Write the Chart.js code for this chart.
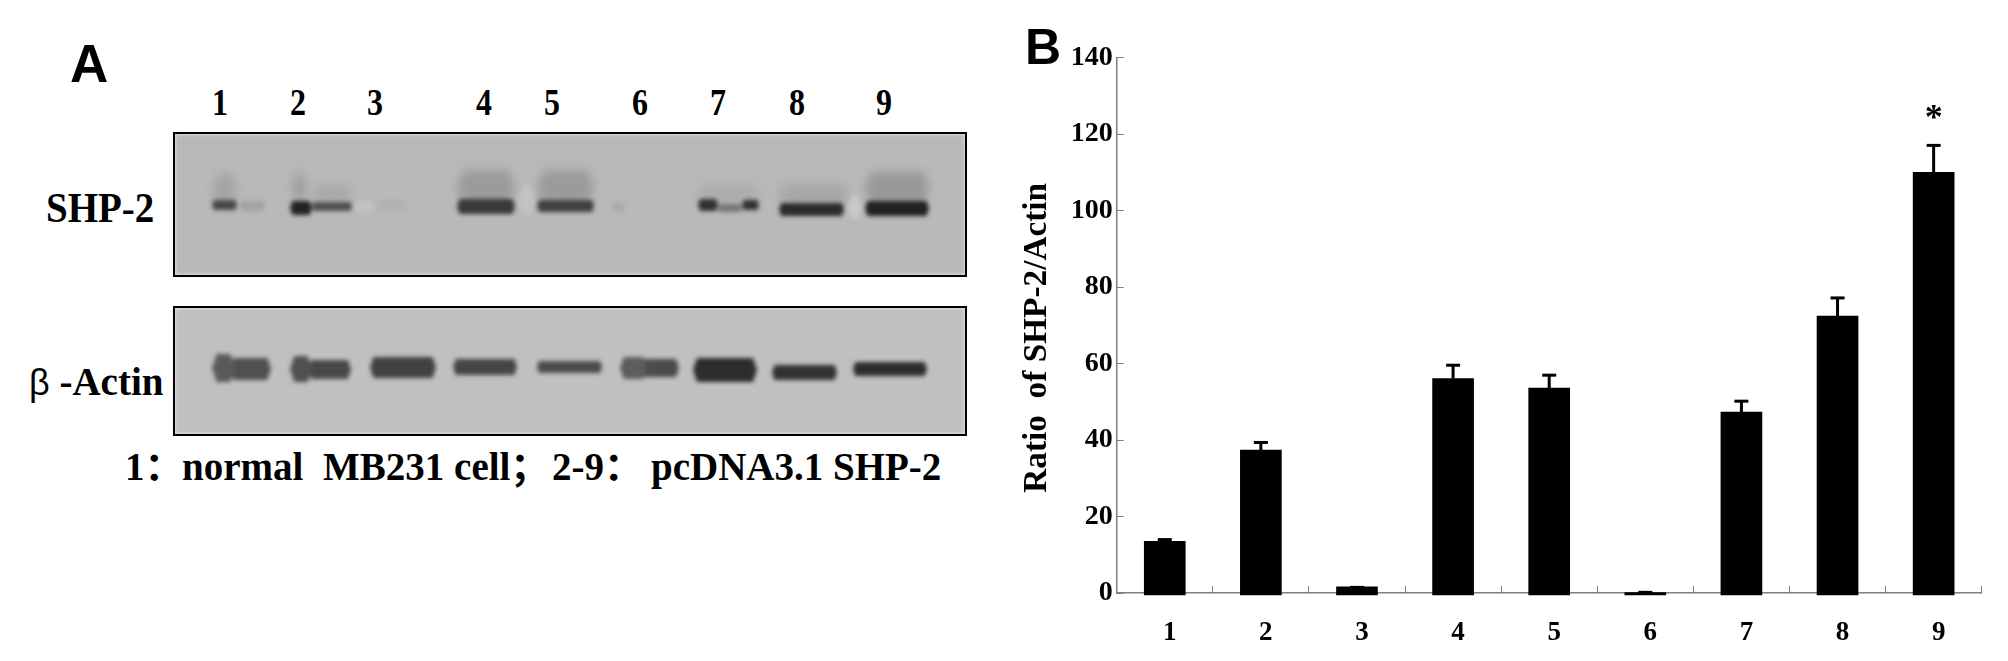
<!DOCTYPE html>
<html>
<head>
<meta charset="utf-8">
<title>SHP-2 expression</title>
<script src="https://cdn.jsdelivr.net/npm/chart.js@4"></script>
<style>
html, body { margin: 0; padding: 0; background: #fff; overflow: hidden; }
#page { position: relative; width: 2008px; height: 661px; overflow: hidden; }
#page div.t { position: absolute; white-space: pre; color: #000; font: bold 39px/1 "Liberation Serif", "Noto Sans CJK SC", serif; }
#page div.letter { font-family: "Liberation Sans", sans-serif; }
#page div.lane { font-size: 32px; top: 89px; transform: scaleY(1.2); transform-origin: 50% 100%; }
.blot { position: absolute; box-sizing: border-box; border: 2px solid #000; overflow: hidden; }
.blot::after { content: ''; position: absolute; inset: 0; box-shadow: inset 0 0 3px 1px #dedede; }
.blot canvas { position: absolute; left: 0; top: 0; }
#chartB { position: absolute; left: 1010px; top: 0; }
</style>
</head>
<body>
<div id="page">
  <div class="t letter" style="left:70px;top:37px;font-size:53px">A</div>
  <div class="t letter" style="left:1025px;top:22px;font-size:50px">B</div>

  <div class="t lane" style="left:212px">1</div>
  <div class="t lane" style="left:290px">2</div>
  <div class="t lane" style="left:367px">3</div>
  <div class="t lane" style="left:476px">4</div>
  <div class="t lane" style="left:544px">5</div>
  <div class="t lane" style="left:632px">6</div>
  <div class="t lane" style="left:710px">7</div>
  <div class="t lane" style="left:789px">8</div>
  <div class="t lane" style="left:876px">9</div>

  <div class="t" style="left:46px;top:190px;transform:scaleY(1.1);transform-origin:50% 100%">SHP-2</div>
  <div class="t" style="left:29px;top:362px"><span style="font:normal 36px 'Liberation Sans'">β</span> -Actin</div>

  <div class="blot" style="left:173px;top:132px;width:794px;height:145px;background:#b9b9b9">
    <canvas id="shpSmear" width="790" height="141" style="filter:blur(5px)"></canvas>
    <canvas id="shpBlot" width="790" height="141" style="filter:blur(2px)"></canvas>
  </div>
  <div class="blot" style="left:173px;top:306px;width:794px;height:130px;background:#c0c0c0">
    <canvas id="actinBlot" width="790" height="126" style="filter:blur(2px)"></canvas>
  </div>

  <div class="t" style="left:125px;top:447px">1：</div>
  <div class="t" style="left:182px;top:447px">normal</div>
  <div class="t" style="left:323px;top:447px">MB231 cell；</div>
  <div class="t" style="left:552px;top:447px">2-9：</div>
  <div class="t" style="left:651px;top:447px">pcDNA3.1 SHP-2</div>

  <canvas id="chartB" width="998" height="661"></canvas>
</div>

<script>
// panel B
const categories = ['1', '2', '3', '4', '5', '6', '7', '8', '9']
const yTicks = [0, 20, 40, 60, 80, 100, 120, 140]
const ratio = [13.5, 37.4, 1.6, 56.1, 53.6, 0.1, 47.3, 72.4, 110]
const errorTop = [14.1, 39.5, 1.6, 59.7, 57.1, 0.3, 50.3, 77.3, 117.2]
const marked = [8]

// panel A, band positions on the membrane
const smearStart = [37, 117, 137, 282, 362, 523, 604, 690]
const smearEnd = [62, 132, 177, 340, 419, 584, 673, 754]
const smearTop = [40, 36, 50, 36, 36, 50, 50, 38]
const smearBottom = [72, 72, 72, 72, 72, 72, 72, 72]
const smearDensity = [0.14, 0.18, 0.1, 0.2, 0.2, 0.08, 0.12, 0.22]

const shpStart = [37, 65, 115, 137, 202, 282, 362, 437, 523, 543, 567, 604, 690, 343, 673, 179]
const shpEnd = [62, 90, 137, 177, 232, 340, 419, 450, 543, 567, 584, 669, 754, 360, 687, 199]
const shpTop = [66, 67, 67, 68, 66, 65, 66, 69, 65, 70, 66, 69, 67, 50, 62, 67]
const shpBottom = [76, 77, 81, 77, 76, 80, 78, 78, 77, 78, 76, 82, 82, 82, 85, 80]
const shpDensity = [0.75, 0.15, 1, 0.7, 0.06, 0.85, 0.8, 0.1, 0.9, 0.45, 0.9, 0.95, 1, -0.06, -0.1, -0.05]

const actinStart = [37, 55, 115, 133, 195, 278, 362, 445, 464, 518, 597, 678]
const actinEnd = [60, 96, 137, 176, 261, 342, 427, 472, 504, 582, 662, 752]
const actinTop = [46, 50, 48, 52, 49, 51, 53, 49, 51, 50, 57, 54]
const actinBottom = [74, 72, 74, 71, 70, 67, 65, 71, 69, 74, 72, 68]
const actinDensity = [0.68, 0.75, 0.75, 0.8, 0.85, 0.82, 0.78, 0.66, 0.78, 0.98, 0.95, 0.98]

function bandSets(start, end, top, bottom, density, base, range) {
    return start.map((s, i) => {
        const g = Math.round(base - density[i] * range)
        const mid = (top[i] + bottom[i]) / 2
        const c = (bottom[i] - top[i]) / 6
        return {
            data: [
                { x: s + c, y: top[i] }, { x: end[i] - c, y: top[i] }, { x: end[i], y: mid },
                { x: end[i] - c, y: bottom[i] }, { x: s + c, y: bottom[i] }, { x: s, y: mid },
                { x: s + c, y: top[i] }
            ],
            showLine: true,
            fill: 'shape',
            backgroundColor: `rgb(${g},${g},${g})`,
            borderWidth: 0,
            pointRadius: 0
        }
    })
}

function drawBlot(id, datasets, w, h) {
    new Chart(document.getElementById(id), {
        type: 'scatter',
        data: { datasets },
        options: {
            responsive: false,
            animation: false,
            layout: { padding: 0 },
            plugins: { legend: { display: false }, tooltip: { enabled: false } },
            scales: {
                x: { type: 'linear', display: false, min: 0, max: w },
                y: { type: 'linear', display: false, min: 0, max: h, reverse: true }
            }
        }
    })
}

drawBlot('shpSmear', bandSets(smearStart, smearEnd, smearTop, smearBottom, smearDensity, 185, 150), 790, 141)
drawBlot('shpBlot', bandSets(shpStart, shpEnd, shpTop, shpBottom, shpDensity, 185, 150), 790, 141)
drawBlot('actinBlot', bandSets(actinStart, actinEnd, actinTop, actinBottom, actinDensity, 192, 150), 790, 126)

const errorBars = {
    id: 'errorBars',
    afterDatasetsDraw(chart) {
        const { ctx, scales: { x, y } } = chart
        ctx.save()
        ctx.fillStyle = '#000'
        errorTop.forEach((v, i) => {
            const px = x.getPixelForValue(i)
            const top = y.getPixelForValue(v)
            const bar = y.getPixelForValue(ratio[i])
            ctx.fillRect(px - 1.5, top, 3, bar - top)
            ctx.fillRect(px - 7, top - 1, 14, 3)
        })
        ctx.font = 'bold 36px "Liberation Serif"'
        ctx.textAlign = 'center'
        ctx.textBaseline = 'middle'
        marked.forEach((i) => {
            ctx.fillText('*', x.getPixelForValue(i), y.getPixelForValue(errorTop[i]) - 25)
        })
        ctx.restore()
    }
}

new Chart(document.getElementById('chartB'), {
    type: 'bar',
    data: {
        labels: categories,
        datasets: [{
            data: ratio,
            backgroundColor: '#000',
            barThickness: 41,
            base: -0.5,
            clip: false
        }]
    },
    options: {
        responsive: false,
        animation: false,
        layout: { padding: { top: 57.7, right: 26.3, left: 0, bottom: 0 } },
        plugins: { legend: { display: false }, tooltip: { enabled: false } },
        scales: {
            x: {
                afterFit: (s) => { s.height = 68 },
                border: { color: '#808080', width: 1.5 },
                grid: { offset: true, drawOnChartArea: false, color: '#808080', tickLength: -7 },
                ticks: {
                    color: '#000',
                    padding: 31,
                    labelOffset: 5,
                    font: { family: '"Liberation Serif"', weight: 'bold', size: 27 }
                }
            },
            y: {
                min: 0,
                max: 140,
                afterFit: (s) => { s.width = 106.7 },
                afterBuildTicks: (s) => { s.ticks = yTicks.map((value) => ({ value })) },
                border: { color: '#808080', width: 1.5 },
                grid: { drawOnChartArea: false, color: '#808080', tickLength: -7 },
                ticks: {
                    color: '#000',
                    padding: 11,
                    font: { family: '"Liberation Serif"', weight: 'bold', size: 28 }
                },
                title: {
                    display: true,
                    text: 'Ratio  of SHP-2/Actin\u00a0\u00a0\u00a0',
                    color: '#000',
                    padding: { top: 7, bottom: 0 },
                    font: { family: '"Liberation Serif"', weight: 'bold', size: 33.3 }
                }
            }
        }
    },
    plugins: [errorBars]
})
</script>
</body>
</html>
